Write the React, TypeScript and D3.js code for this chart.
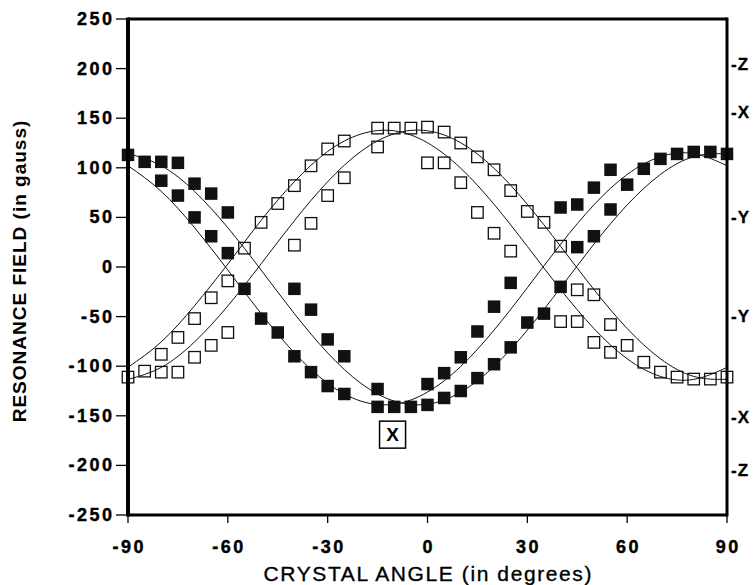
import React from "react";
import * as d3 from "d3";

// ---- data ----
const curveAngles = [-90, -80, -70, -60, -50, -40, -30, -20, -10, 0, 10, 20, 30, 40, 50, 60, 70, 80, 90];
const openCurve1 = [-101, -75.5, -39, 3, 47, 86, 116.5, 134, 137.3, 125.2, 99.5, 63.2, 20.8, -22.7, -62, -92.5, -110.3, -113.3, -101.2];
const openCurve2 = [-113.3, -101.2, -75.5, -39.2, 3.2, 46.7, 86, 116.5, 134.3, 137.3, 125.2, 99.5, 63.2, 20.8, -22.7, -62, -92.5, -110.3, -113.3];
const filledCurve1 = [114.3, 102.1, 76.2, 39.6, -3.1, -47, -86.6, -117.3, -135.2, -138.3, -126.1, -100.2, -63.6, -20.9, 23, 62.6, 93.3, 111.2, 114.3];
const filledCurve2 = [102.1, 76.2, 39.6, -3.1, -47, -86.6, -117.3, -135.2, -138.3, -126.1, -100.2, -63.6, -20.9, 23, 62.6, 93.3, 111.2, 114.3, 102.1];

const filledAngles = [-90, -85, -80, -75, -80, -75, -70, -65, -70, -60, -65, -60, -55, -50, -45, -40, -35, -40, -35, -30, -25, -30, -25, -15, -15, -10, -5, 0, 0, 5, 10, 15, 20, 25, 5, 10, 15, 20, 25, 30, 35, 40, 45, 50, 55, 40, 45, 50, 55, 60, 65, 70, 75, 80, 85, 90];
const filledValues = [113, 106, 106, 105, 87, 72, 84, 74, 50, 55, 31, 14, -22, -52, -66, -90, -106, -22, -43, -73, -90, -120, -128, -123, -141, -141, -141, -139, -118, -107, -91, -65, -40, -16, -132, -125, -112, -98, -81, -56, -47, -20, 20, 31, 58, 60, 63, 80, 98, 83, 99, 109, 114, 116, 116, 114];

const openAngles = [-90, -85, -80, -75, -70, -65, -60, -55, -50, -45, -40, -35, -30, -25, -15, -10, -5, 0, 5, 10, 15, 20, 25, 30, 35, 40, 45, 50, 55, 60, 65, 70, 75, 80, 85, 90, -80, -75, -70, -65, -60, -40, -35, -30, -25, -15, 0, 5, 10, 15, 20, 25, 40, 45, 50, 55];
const openValues = [-111, -105, -88, -71, -52, -31, -14, 19, 45, 64, 82, 102, 119, 127, 140, 140, 140, 141, 136, 125, 111, 98, 77, 56, 45, 21, -23, -28, -58, -79, -96, -106, -111, -113, -113, -111, -106, -106, -91, -79, -66, 22, 44, 72, 90, 121, 105, 105, 85, 55, 34, 16, -55, -55, -76, -86];

const xTicks = [-90, -60, -30, 0, 30, 60, 90];
const yTicks = [-250, -200, -150, -100, -50, 0, 50, 100, 150, 200, 250];
const rightLabels = ["-Z", "-X", "-Y", "-Y", "-X", "-Z"];
const rightValues = [204, 156, 50, -50, -152, -205];
const boxLabel = "X";
const boxAngle = -10.5;
const boxValue = -169;
const xTitle = "CRYSTAL ANGLE (in degrees)";
const yTitle = "RESONANCE FIELD (in gauss)";

const W = 756;
const H = 585;
const left = 128;
const right = 727;
const top = 19;
const bottom = 515;

export default function App() {
  const x = d3.scaleLinear().domain([-90, 90]).range([left, right]);
  const y = d3.scaleLinear().domain([-250, 250]).range([bottom, top]);
  const line = d3
    .line<number>()
    .x((_, i) => x(curveAngles[i]))
    .y((d) => y(d))
    .curve(d3.curveNatural);
  const curves = [openCurve1, openCurve2, filledCurve1, filledCurve2];
  const sq = 11.5;
  const font = "'Liberation Sans', Arial, Helvetica, sans-serif";
  const ls = 2.5;

  return (
    <svg
      width={W}
      height={H}
      style={{ position: "absolute", left: 0, top: 0, background: "#fff" }}
      fontFamily={font}
    >
      <rect x={0} y={0} width={W} height={H} fill="#fff" />
      {curves.map((c, i) => (
        <path key={i} d={line(c) || ""} fill="none" stroke="#111" strokeWidth={1} />
      ))}
      {openAngles.map((a, i) => (
        <rect
          key={"o" + i}
          x={x(a) - sq / 2}
          y={y(openValues[i]) - sq / 2}
          width={sq}
          height={sq}
          fill="none"
          stroke="#111"
          strokeWidth={1.3}
        />
      ))}
      {filledAngles.map((a, i) => (
        <rect
          key={"f" + i}
          x={x(a) - sq / 2 - 0.5}
          y={y(filledValues[i]) - sq / 2 - 0.5}
          width={sq + 1}
          height={sq + 1}
          fill="#111"
        />
      ))}
      {/* frame */}
      <line x1={left} x2={left} y1={top - 1.5} y2={bottom + 1.5} stroke="#000" strokeWidth={4} />
      <line x1={right} x2={right} y1={top - 1.5} y2={bottom + 1.5} stroke="#000" strokeWidth={3} />
      <line x1={left} x2={right} y1={top} y2={top} stroke="#000" strokeWidth={3} />
      <line x1={left} x2={right} y1={bottom} y2={bottom} stroke="#000" strokeWidth={3} />
      {/* y ticks */}
      {yTicks.map((t) => (
        <g key={"y" + t}>
          <line x1={left - 12} x2={left} y1={y(t)} y2={y(t)} stroke="#000" strokeWidth={1.3} />
          <text
            x={left - 16 + ls}
            y={y(t)}
            textAnchor="end"
            dominantBaseline="central"
            fontSize={18}
            letterSpacing={ls}
            fontWeight="bold"
            fill="#000"
            stroke="#000"
            strokeWidth={0.4}
          >
            {t}
          </text>
        </g>
      ))}
      {/* x ticks */}
      {xTicks.map((t) => (
        <g key={"x" + t}>
          <line x1={x(t)} x2={x(t)} y1={bottom} y2={bottom + 8} stroke="#000" strokeWidth={1.3} />
          <text
            x={x(t) + ls / 2}
            y={bottom + 38}
            textAnchor="middle"
            fontSize={18}
            letterSpacing={ls}
            fontWeight="bold"
            fill="#000"
            stroke="#000"
            strokeWidth={0.4}
          >
            {t}
          </text>
        </g>
      ))}
      {/* right labels */}
      {rightLabels.map((l, i) => (
        <text
          key={"r" + i}
          x={right + 4}
          y={y(rightValues[i])}
          dominantBaseline="central"
          fontSize={17}
          letterSpacing={1}
          fontWeight="bold"
          fill="#000"
          stroke="#000"
          strokeWidth={0.3}
        >
          {l}
        </text>
      ))}
      {/* boxed X */}
      <rect
        x={x(boxAngle) - 13}
        y={y(boxValue) - 13.5}
        width={26}
        height={27}
        fill="#fff"
        stroke="#000"
        strokeWidth={1.5}
      />
      <text
        x={x(boxAngle)}
        y={y(boxValue)}
        textAnchor="middle"
        dominantBaseline="central"
        fontSize={19}
        fontWeight="bold"
        fill="#000"
      >
        {boxLabel}
      </text>
      {/* axis titles */}
      <text
        x={x(0) + 0.8}
        y={581}
        textAnchor="middle"
        fontSize={21}
        letterSpacing={1.6}
        fill="#000"
        stroke="#000"
        strokeWidth={0.35}
      >
        {xTitle}
      </text>
      <text
        transform={`translate(19,${(top + bottom) / 2 + 4}) rotate(-90)`}
        textAnchor="middle"
        dominantBaseline="central"
        fontSize={19}
        letterSpacing={1}
        fontWeight="bold"
        fill="#000"
      >
        {yTitle}
      </text>
    </svg>
  );
}
